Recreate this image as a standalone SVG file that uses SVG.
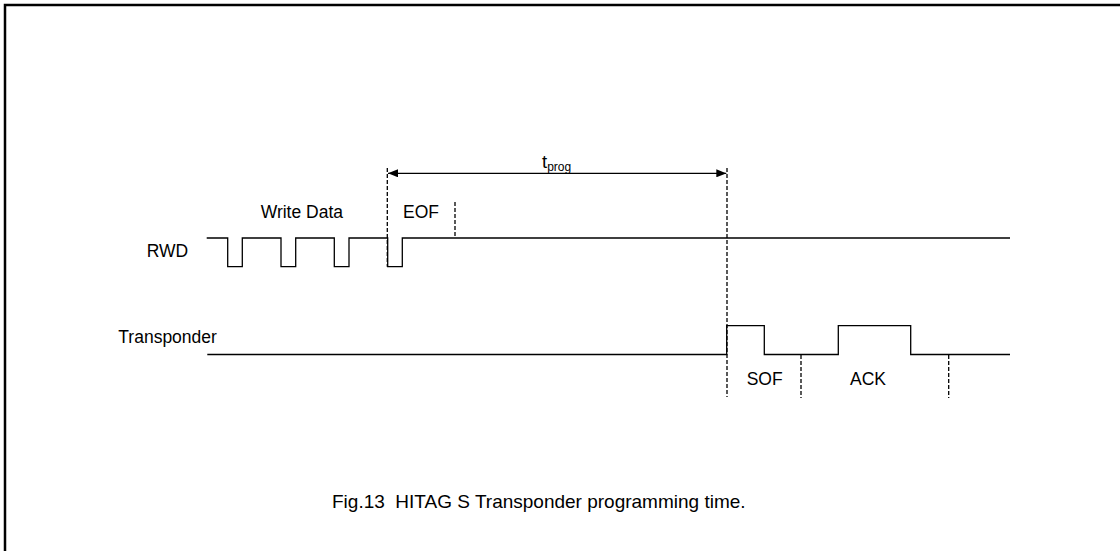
<svg xmlns="http://www.w3.org/2000/svg" width="1120" height="551" viewBox="0 0 1120 551">
<style>
.t{font-family:"Liberation Sans",Arial,sans-serif;font-size:17.5px;fill:#000}
.w{fill:none;stroke:#000;stroke-width:1.3}
.d{fill:none;stroke:#000;stroke-width:1.3;stroke-dasharray:4,2}
</style>
<defs>
<marker id="ah" viewBox="0 0 10 8" refX="10" refY="4" markerWidth="10" markerHeight="8" markerUnits="userSpaceOnUse" orient="auto-start-reverse">
<path d="M0,0 L10,4 L0,8 Z" fill="#000"/>
</marker>
</defs>
<rect width="1120" height="551" fill="#fff"/>
<path d="M5,551 V5 H1120" fill="none" stroke="#000" stroke-width="2.5"/>
<g id="rwd">
<path class="w" d="M206.7,238 H227.7 V266.7 H242.3 V238 H281 V266.7 H295.7 V238 H334.3 V266.7 H349 V238 H387.7 V266.7 H402.3 V238 H1010"/>
<text class="t" x="146.7" y="256.5">RWD</text>
<text class="t" x="260.7" y="218">Write Data</text>
<text class="t" x="403" y="218">EOF</text>
</g>
<g id="transponder">
<path class="w" d="M207.3,354.5 H726.7 V325.7 H764.3 V354.5 H838.3 V325.7 H910.7 V354.5 H1010"/>
<text class="t" x="118.3" y="343">Transponder</text>
<text class="t" x="746.7" y="385">SOF</text>
<text class="t" x="850" y="385">ACK</text>
</g>
<g id="connectors">
<path class="d" d="M387.3,168 V266.7"/>
<path class="d" d="M455,202 V238"/>
<path class="d" d="M727,168 V397"/>
<path class="d" d="M801,355 V398"/>
<path class="d" d="M948.7,355 V398"/>
<path class="w" d="M388,173.3 H726.3" marker-start="url(#ah)" marker-end="url(#ah)"/>
</g>
<g id="tprog">
<text class="t" x="542" y="168" style="font-size:18.5px">t<tspan font-size="12" dy="3">prog</tspan></text>
</g>
<g id="caption">
<text class="t" x="332" y="508" style="font-size:19px" xml:space="preserve">Fig.13  HITAG S Transponder programming time.</text>
</g>
</svg>
